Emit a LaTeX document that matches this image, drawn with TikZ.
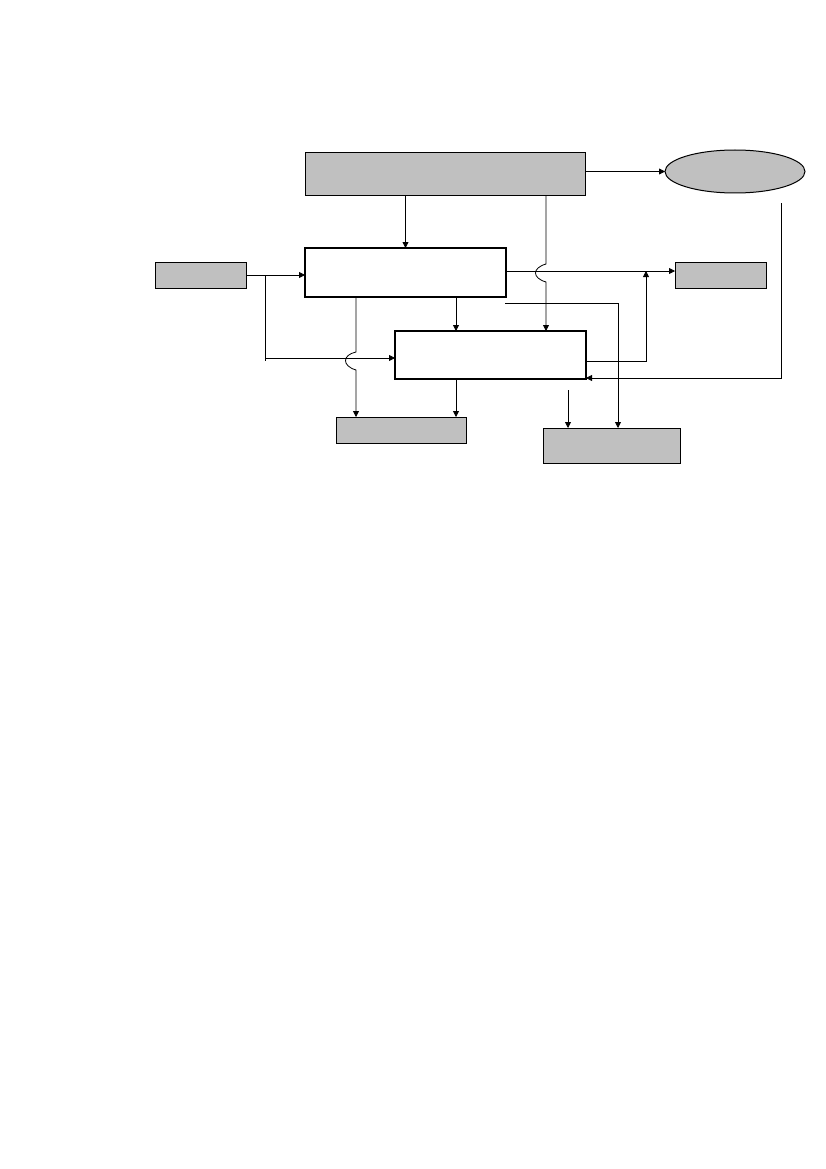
\documentclass[tikz,border=0pt]{standalone}
\usetikzlibrary{arrows.meta,shapes.geometric}
\begin{document}
\begin{tikzpicture}[x=1pt,y=-1pt,
  graybox/.style={draw=black,fill=boxgray,line width=1pt,rectangle,inner sep=0pt,outer sep=0pt},
  thickbox/.style={draw=black,fill=white,line width=2.6pt,rectangle,inner sep=0pt,outer sep=0pt},
  conn/.style={draw=black,line width=0.8pt},
  arr/.style={conn,-{Triangle[length=6pt,width=6pt]}}]
\definecolor{boxgray}{HTML}{C0C0C0}
\useasboundingbox (0,0) rectangle (826,1169);
\fill[white] (0,0) rectangle (826,1169);
% nodes
\node[graybox,minimum width=280pt,minimum height=43pt] (top) at (445,174.5) {};
\node[draw=black,fill=boxgray,line width=1pt,ellipse,inner sep=0pt,outer sep=0pt,minimum width=140pt,minimum height=43pt] (ell) at (735,171.5) {};
\node[graybox,minimum width=91pt,minimum height=26pt] (in) at (200.5,275) {};
\node[thickbox,minimum width=201pt,minimum height=49pt] (A) at (405.5,272.5) {};
\node[thickbox,minimum width=191pt,minimum height=48pt] (B) at (490.5,355) {};
\node[graybox,minimum width=91pt,minimum height=26pt] (out) at (720.5,275) {};
\node[graybox,minimum width=130pt,minimum height=26pt] (bl) at (401,430) {};
\node[graybox,minimum width=137pt,minimum height=35pt] (br) at (611.5,445.5) {};
% coordinates
\coordinate (j1) at (265,275);
\coordinate (j2) at (265,358);
\coordinate (a1) at (456,297);
\coordinate (b1) at (456,379);
\coordinate (t2) at (546,196);
\coordinate (a2) at (356,297);
\coordinate (c1) at (646,361);
\coordinate (e1) at (781,203);
\coordinate (e2) at (781,378);
\coordinate (d1) at (505,303);
\coordinate (d2) at (618,303);
\coordinate (f1) at (568,390);
% connectors
\draw[arr] (top.east |- ell.west) -- (ell.west);
\draw[arr] (A.north |- top.south) -- (A.north);
\draw[arr] (in.east) -- (in.east -| A.west);
\draw[conn] (j1) -- ++(0,86);
\draw[arr] (j2) -- (j2 -| B.west);
\draw[arr] (a1) -- (a1 |- B.north);
\draw[arr] (t2) -- (546,264) .. controls (532,268) and (532,278) .. (546,282) -- (t2 |- B.north);
\draw[arr] (A.east |- 0,271) -- (out.west |- 0,271);
\draw[arr] (a2) -- (356,352) .. controls (342,355) and (342,366) .. (356,370) -- (a2 |- bl.north);
\draw[arr] (b1) -- (b1 |- bl.north);
\draw[arr] (B.east |- c1) -- (c1) -- (646,271);
\draw[arr] (e1) -- (e2) -- (e2 -| B.east);
\draw[arr] (d1) -- (d2) -- (d2 |- br.north);
\draw[arr] (f1) -- (f1 |- br.north);
\end{tikzpicture}
\end{document}
